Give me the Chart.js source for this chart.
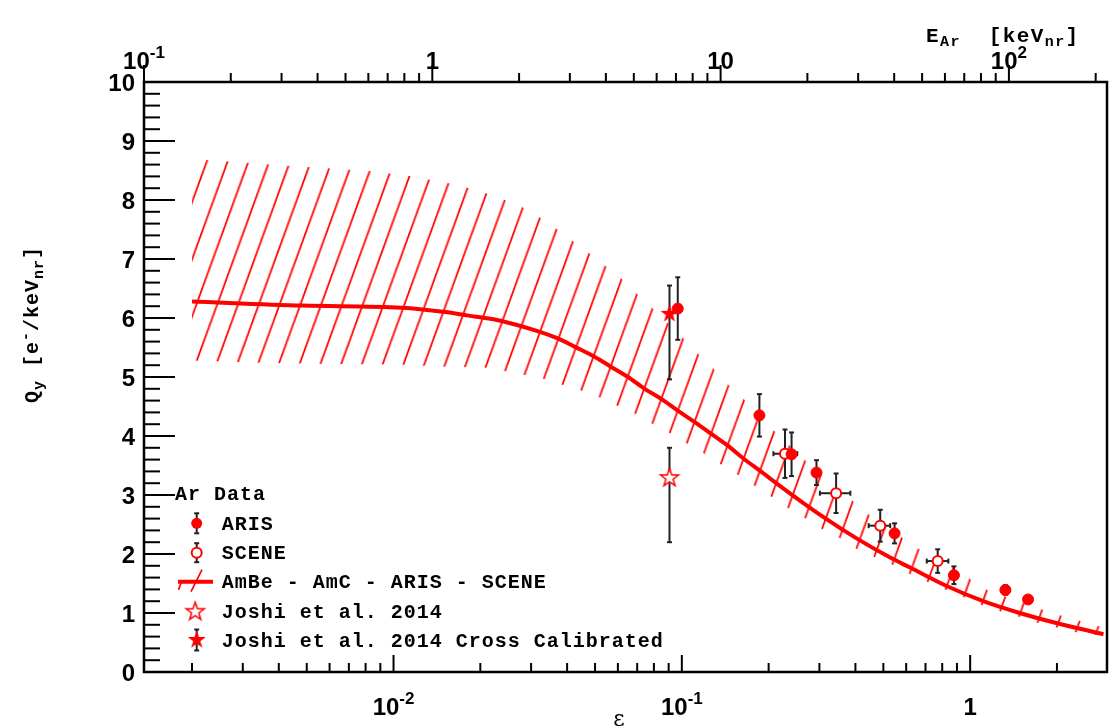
<!DOCTYPE html>
<html>
<head>
<meta charset="utf-8">
<title>Ar charge yield</title>
<script src="https://cdn.jsdelivr.net/npm/chart.js@4.4.1/dist/chart.umd.min.js"></script>
<style>
  html, body { margin: 0; padding: 0; background: #fff; }
  #wrap { width: 1114px; height: 728px; }
</style>
</head>
<body>
<div id="wrap"><canvas id="chart" width="1114" height="728"></canvas></div>
<script>
/* ═══════════════════════════════════════════════════════════
   Qy of nuclear recoils in argon vs. reduced energy ε
═══════════════════════════════════════════════════════════ */

// ── DATA ──────────────────────────────────────────────────────
// fitted curve (AmBe - AmC - ARIS - SCENE)
const curveEps = [0.002, 0.00484, 0.0107, 0.0151, 0.0182, 0.0214, 0.0237, 0.031, 0.0373, 0.0426,
  0.0499, 0.0569, 0.065, 0.0743, 0.0848, 0.0968, 0.1105, 0.1262, 0.144, 0.1645, 0.1854, 0.2384,
  0.311, 0.405, 0.528, 0.619, 0.818, 1.11, 1.485, 1.988, 2.9];
const curveQy = [6.28, 6.21, 6.175, 6.10, 6.04, 5.99, 5.95, 5.79, 5.65, 5.51,
  5.34, 5.17, 5.00, 4.80, 4.63, 4.43, 4.24, 4.04, 3.84, 3.61, 3.42, 3.02,
  2.62, 2.26, 1.94, 1.77, 1.47, 1.20, 1.00, 0.83, 0.64];

// hatched band, upper and lower edge
const bandUpEps = [0.002, 0.002255, 0.0031, 0.00427, 0.0059, 0.00822, 0.01124, 0.01541, 0.01789, 0.02079,
  0.0271, 0.0344, 0.0404, 0.04756, 0.054, 0.0617, 0.06948, 0.07888, 0.1007, 0.1135, 0.1289, 0.1449,
  0.1645, 0.2089, 0.2673, 0.3455, 0.3893, 0.442, 0.5794, 0.6618, 0.8742, 0.9975, 1.155, 1.526,
  1.741, 2.052, 2.393, 2.77, 2.9];
const bandUpQy = [8.70, 8.68, 8.63, 8.58, 8.54, 8.49, 8.41, 8.29, 8.21, 8.12,
  7.92, 7.62, 7.36, 7.10, 6.89, 6.67, 6.42, 6.17, 5.67, 5.40, 5.14, 4.87,
  4.62, 4.09, 3.59, 3.11, 2.91, 2.68, 2.28, 2.09, 1.79, 1.58, 1.38, 1.17,
  1.07, 0.96, 0.87, 0.78, 0.76];
const bandLoEps = [0.002, 0.00343, 0.00598, 0.01044, 0.01435, 0.0207, 0.02426, 0.02821, 0.03307, 0.03847,
  0.04464, 0.05152, 0.05923, 0.06861, 0.07825, 0.09011, 0.1034, 0.1186, 0.1357, 0.1551, 0.1781,
  0.2033, 0.2334, 0.2673, 0.305, 0.353, 0.4029, 0.4649, 0.5353, 0.6112, 0.8176, 0.9467, 1.086,
  1.266, 1.466, 1.696, 1.977, 2.299, 2.697, 2.9];
const bandLoQy = [5.28, 5.24, 5.22, 5.21, 5.18, 5.16, 5.10, 5.04, 4.97, 4.87,
  4.77, 4.66, 4.52, 4.38, 4.22, 4.06, 3.88, 3.71, 3.53, 3.35, 3.16,
  2.98, 2.78, 2.61, 2.43, 2.27, 2.09, 1.95, 1.82, 1.67, 1.40, 1.27, 1.14,
  1.03, 0.94, 0.84, 0.76, 0.68, 0.63, 0.61];

// ARIS
const arisEps = [0.0968, 0.1858, 0.2402, 0.2931, 0.5468, 0.8785, 1.325, 1.588];
const arisQy  = [6.16, 4.35, 3.69, 3.38, 2.35, 1.64, 1.39, 1.23];
const arisErr = [0.53, 0.36, 0.37, 0.21, 0.17, 0.15, 0.08, 0.05];

// SCENE
const sceneEps   = [0.2279, 0.3428, 0.4876, 0.7716];
const sceneQy    = [3.70, 3.03, 2.48, 1.88];
const sceneErr   = [0.41, 0.335, 0.27, 0.20];
const sceneEpsLo = [0.2078, 0.3012, 0.4446, 0.7071];
const sceneEpsHi = [0.2514, 0.3841, 0.5281, 0.8402];

// Joshi et al. 2014, raw and cross calibrated
const joshiEps = [0.0906];
const joshiQy = [3.29];
const joshiErrUp = [0.51];
const joshiErrDn = [1.09];
const joshiCcEps = [0.0906];
const joshiCcQy = [6.07];
const joshiCcErrUp = [0.48];
const joshiCcErrDn = [1.11];

// ── AXES ──────────────────────────────────────────────────────
const epsRange = [0.001363, 2.983];   // bottom axis, ε
const keVRange = [0.1, 218.9];        // top axis, E_Ar [keVnr]
const qyRange = [0, 10];
const qyTicks = ['0', '1', '2', '3', '4', '5', '6', '7', '8', '9', '10'];
const epsTickLabels = [[0.01, '10', '-2'], [0.1, '10', '-1'], [1, '1', '']];
const keVTickLabels = [[0.1, '10', '-1'], [1, '1', ''], [10, '10', ''], [100, '10', '2']];
const legendTitle = 'Ar Data';
const legendLabels = ['ARIS', 'SCENE', 'AmBe - AmC - ARIS - SCENE', 'Joshi et al. 2014',
  'Joshi et al. 2014 Cross Calibrated'];

// ── STYLE ─────────────────────────────────────────────────────
const RED = '#ff0000';
const INK = '#000000';
const BAR = '#222222';
const SANS = '"Liberation Sans", Arial, Helvetica, sans-serif';
const MONO = '"Liberation Mono", "Courier New", monospace';

const pts = (xs, ys) => xs.map((x, i) => ({ x, y: ys[i] }));

function hatchPattern() {
  const s = 20, h = 55;
  const c = document.createElement('canvas');
  c.width = s; c.height = h;
  const g = c.getContext('2d');
  g.strokeStyle = RED;
  g.lineWidth = 1.7;
  for (let k = -1; k <= 3; k++) {
    g.beginPath();
    g.moveTo(-s, k * h + h);
    g.lineTo(2 * s, k * h - 2 * h);
    g.stroke();
  }
  const p = g.createPattern(c, 'repeat');
  p.setTransform(new DOMMatrix().translate(15.9, 0).scale(1.04));
  return p;
}

function starPoint(filled) {
  const c = document.createElement('canvas');
  c.width = 24; c.height = 24;
  const g = c.getContext('2d');
  g.beginPath();
  for (let i = 0; i < 10; i++) {
    const r = i % 2 ? 3.8 : 9.5;
    const a = -Math.PI / 2 + i * Math.PI / 5;
    g.lineTo(12 + r * Math.cos(a), 12 + r * Math.sin(a));
  }
  g.closePath();
  g.fillStyle = filled ? RED : '#fff';
  g.fill();
  if (!filled) { g.strokeStyle = RED; g.lineWidth = 1.5; g.stroke(); }
  return c;
}
const starOpen = starPoint(false);
const starFull = starPoint(true);

// text made of runs: [text, size, baseline shift]
function drawRuns(ctx, x, y, runs, family, align, spacing) {
  ctx.letterSpacing = (spacing || 0) + 'px';
  const ws = runs.map(r => { ctx.font = `bold ${r[1]}px ${family}`; return ctx.measureText(r[0]).width; });
  const total = ws.reduce((a, b) => a + b, 0);
  let cx = align === 'center' ? x - total / 2 : align === 'right' ? x - total : x;
  ctx.textAlign = 'left';
  ctx.textBaseline = 'alphabetic';
  runs.forEach((r, i) => {
    ctx.font = `bold ${r[1]}px ${family}`;
    ctx.fillText(r[0], cx, y + r[2]);
    cx += ws[i];
  });
  ctx.letterSpacing = '0px';
}

function seg(ctx, x1, y1, x2, y2) {
  ctx.beginPath(); ctx.moveTo(x1, y1); ctx.lineTo(x2, y2); ctx.stroke();
}

// ── ERROR BARS (drawn just before their marker dataset) ───────
const errorBars = {
  id: 'errorBars',
  beforeDatasetDraw(chart, args) {
    const ds = chart.data.datasets[args.index];
    if (!ds.errUp) return;
    const { ctx, scales: { x, y } } = chart;
    ctx.save();
    ctx.strokeStyle = BAR;
    ctx.lineWidth = 2;
    ds.data.forEach((p, i) => {
      const px = x.getPixelForValue(p.x), py = y.getPixelForValue(p.y);
      const top = y.getPixelForValue(p.y + ds.errUp[i]);
      const bot = y.getPixelForValue(p.y - ds.errDn[i]);
      seg(ctx, px, top, px, bot);
      seg(ctx, px - 2.5, top, px + 2.5, top);
      seg(ctx, px - 2.5, bot, px + 2.5, bot);
      if (ds.xLo) {
        const l = x.getPixelForValue(ds.xLo[i]), r = x.getPixelForValue(ds.xHi[i]);
        seg(ctx, l, py, r, py);
        seg(ctx, l, py - 2.5, l, py + 2.5);
        seg(ctx, r, py - 2.5, r, py + 2.5);
      }
    });
    ctx.restore();
  },
};

// ── FRAME, TICKS, LABELS, TITLES ──────────────────────────────
const rootAxes = {
  id: 'rootAxes',
  afterDatasetsDraw(chart) {
    const { ctx, chartArea: a, scales: { x, x2, y } } = chart;
    ctx.save();
    ctx.strokeStyle = INK;
    ctx.fillStyle = INK;

    // y ticks, inward
    ctx.lineWidth = 2;
    for (let i = 0; i <= 50; i++) {
      const v = i / 5, py = y.getPixelForValue(v);
      seg(ctx, a.left, py, a.left + (i % 5 === 0 ? 31 : 16), py);
    }
    // bottom ticks, inward
    for (let d = -3; d <= 0; d++) {
      for (let m = 1; m <= 9; m++) {
        const v = m * Math.pow(10, d);
        if (v < epsRange[0] || v > epsRange[1]) continue;
        const px = x.getPixelForValue(v);
        seg(ctx, px, a.bottom, px, a.bottom - (m === 1 ? 17 : 9));
      }
    }
    // top ticks, outward
    for (let d = -1; d <= 2; d++) {
      for (let m = 1; m <= 9; m++) {
        const v = m * Math.pow(10, d);
        if (v < keVRange[0] || v > keVRange[1]) continue;
        const px = x2.getPixelForValue(v);
        seg(ctx, px, a.top, px, a.top - (m === 1 ? 17 : 9));
      }
    }
    // frame
    ctx.lineWidth = 2.5;
    ctx.strokeRect(a.left, a.top, a.right - a.left, a.bottom - a.top);

    // tick labels
    qyTicks.forEach((t, i) => {
      drawRuns(ctx, 135, y.getPixelForValue(i) + 8.5, [[t, 24, 0]], SANS, 'right');
    });
    epsTickLabels.forEach(([v, base, exp]) => {
      const runs = exp ? [[base, 24, 0], [exp, 17, -11]] : [[base, 24, 0]];
      drawRuns(ctx, x.getPixelForValue(v), 714.5, runs, SANS, 'center');
    });
    keVTickLabels.forEach(([v, base, exp]) => {
      const runs = exp ? [[base, 24, 0], [exp, 17, -11]] : [[base, 24, 0]];
      drawRuns(ctx, x2.getPixelForValue(v), 68.5, runs, SANS, 'center');
    });

    // axis titles
    drawRuns(ctx, 926, 42, [['E', 21, 0], ['Ar', 15, 3.5], ['  [keV', 21, 0], ['nr', 15, 3.5], [']', 21, 0]],
      MONO, 'left', 1.4);
    ctx.font = '22px "DejaVu Serif", "Liberation Serif", serif';
    ctx.textAlign = 'center';
    ctx.fillText('\u03b5', 619, 726);
    ctx.save();
    ctx.translate(38, 403);
    ctx.rotate(-Math.PI / 2);
    drawRuns(ctx, 0, 0, [['Q', 20, 0], ['y', 15, 5], [' [e', 20, 0], ['-', 15, -8], ['/keV', 20, 0],
      ['nr', 15, 5], [']', 20, 0]], MONO, 'left', 1);
    ctx.restore();
    ctx.restore();
  },
};

// ── LEGEND ────────────────────────────────────────────────────
const rootLegend = {
  id: 'rootLegend',
  afterDraw(chart) {
    const ctx = chart.ctx;
    const mx = 196.7, tx = 221.7;
    const rows = [523.3, 552.7, 581.7, 611.7, 640];
    ctx.save();
    ctx.fillStyle = INK;
    drawRuns(ctx, 175, 500, [[legendTitle, 20, 0]], MONO, 'left', 1);
    legendLabels.forEach((t, i) => drawRuns(ctx, tx, rows[i] + 6.5, [[t, 20, 0]], MONO, 'left', 1));

    ctx.strokeStyle = BAR;
    ctx.lineWidth = 2;
    [[rows[0], 10], [rows[1], 9.5], [rows[4], 10.5]].forEach(([cy, e]) => {
      seg(ctx, mx, cy - e, mx, cy + e);
      seg(ctx, mx - 2.5, cy - e, mx + 2.5, cy - e);
      seg(ctx, mx - 2.5, cy + e, mx + 2.5, cy + e);
    });
    // ARIS
    ctx.fillStyle = RED;
    ctx.beginPath(); ctx.arc(mx, rows[0], 5.5, 0, 2 * Math.PI); ctx.fill();
    // SCENE
    ctx.fillStyle = '#fff';
    ctx.strokeStyle = RED;
    ctx.beginPath(); ctx.arc(mx, rows[1], 5, 0, 2 * Math.PI); ctx.fill(); ctx.stroke();
    // band + curve
    ctx.lineWidth = 4;
    seg(ctx, 178, rows[2], 213, rows[2]);
    ctx.lineWidth = 1.7;
    seg(ctx, 191, rows[2] + 10, 202, rows[2] - 12);
    seg(ctx, 178.5, rows[2] + 8, 181.5, rows[2]);
    // stars
    ctx.drawImage(starOpen, mx - 13.5, rows[3] - 12);
    ctx.drawImage(starFull, mx - 12, rows[4] - 12);
    ctx.restore();
  },
};

// ── CHART ─────────────────────────────────────────────────────
const markerBase = { showLine: false, order: 0 };

new Chart(document.getElementById('chart'), {
  type: 'scatter',
  data: {
    datasets: [
      { ...markerBase, label: legendLabels[0], data: pts(arisEps, arisQy), errUp: arisErr, errDn: arisErr,
        pointStyle: 'circle', pointRadius: 5.5, backgroundColor: RED, borderColor: RED, borderWidth: 1 },
      { ...markerBase, label: legendLabels[1], data: pts(sceneEps, sceneQy), errUp: sceneErr, errDn: sceneErr,
        xLo: sceneEpsLo, xHi: sceneEpsHi,
        pointStyle: 'circle', pointRadius: 5, backgroundColor: '#fff', borderColor: RED, borderWidth: 2 },
      { ...markerBase, label: legendLabels[3], data: pts(joshiEps, joshiQy), errUp: joshiErrUp, errDn: joshiErrDn,
        pointStyle: starOpen },
      { ...markerBase, label: legendLabels[4], data: pts(joshiCcEps, joshiCcQy), errUp: joshiCcErrUp, errDn: joshiCcErrDn,
        pointStyle: starFull },
      { label: legendLabels[2], data: pts(curveEps, curveQy), showLine: true, order: 1,
        borderColor: RED, borderWidth: 4, pointRadius: 0, cubicInterpolationMode: 'monotone', fill: false },
      { label: 'band up', data: pts(bandUpEps, bandUpQy), showLine: true, order: 2,
        borderColor: 'transparent', borderWidth: 0, pointRadius: 0, fill: '+1', backgroundColor: hatchPattern() },
      { label: 'band low', data: pts(bandLoEps, bandLoQy), showLine: true, order: 2,
        borderColor: 'transparent', borderWidth: 0, pointRadius: 0, fill: false },
    ],
  },
  options: {
    responsive: false,
    animation: false,
    events: [],
    layout: { padding: { left: 144, right: 3, top: 82, bottom: 56 } },
    plugins: { legend: { display: false }, tooltip: { enabled: false } },
    scales: {
      x: { type: 'logarithmic', position: 'bottom', min: epsRange[0], max: epsRange[1], display: false },
      x2: { type: 'logarithmic', position: 'top', min: keVRange[0], max: keVRange[1], display: false },
      y: { type: 'linear', min: qyRange[0], max: qyRange[1], display: false },
    },
  },
  plugins: [errorBars, rootAxes, rootLegend],
});
</script>
</body>
</html>
